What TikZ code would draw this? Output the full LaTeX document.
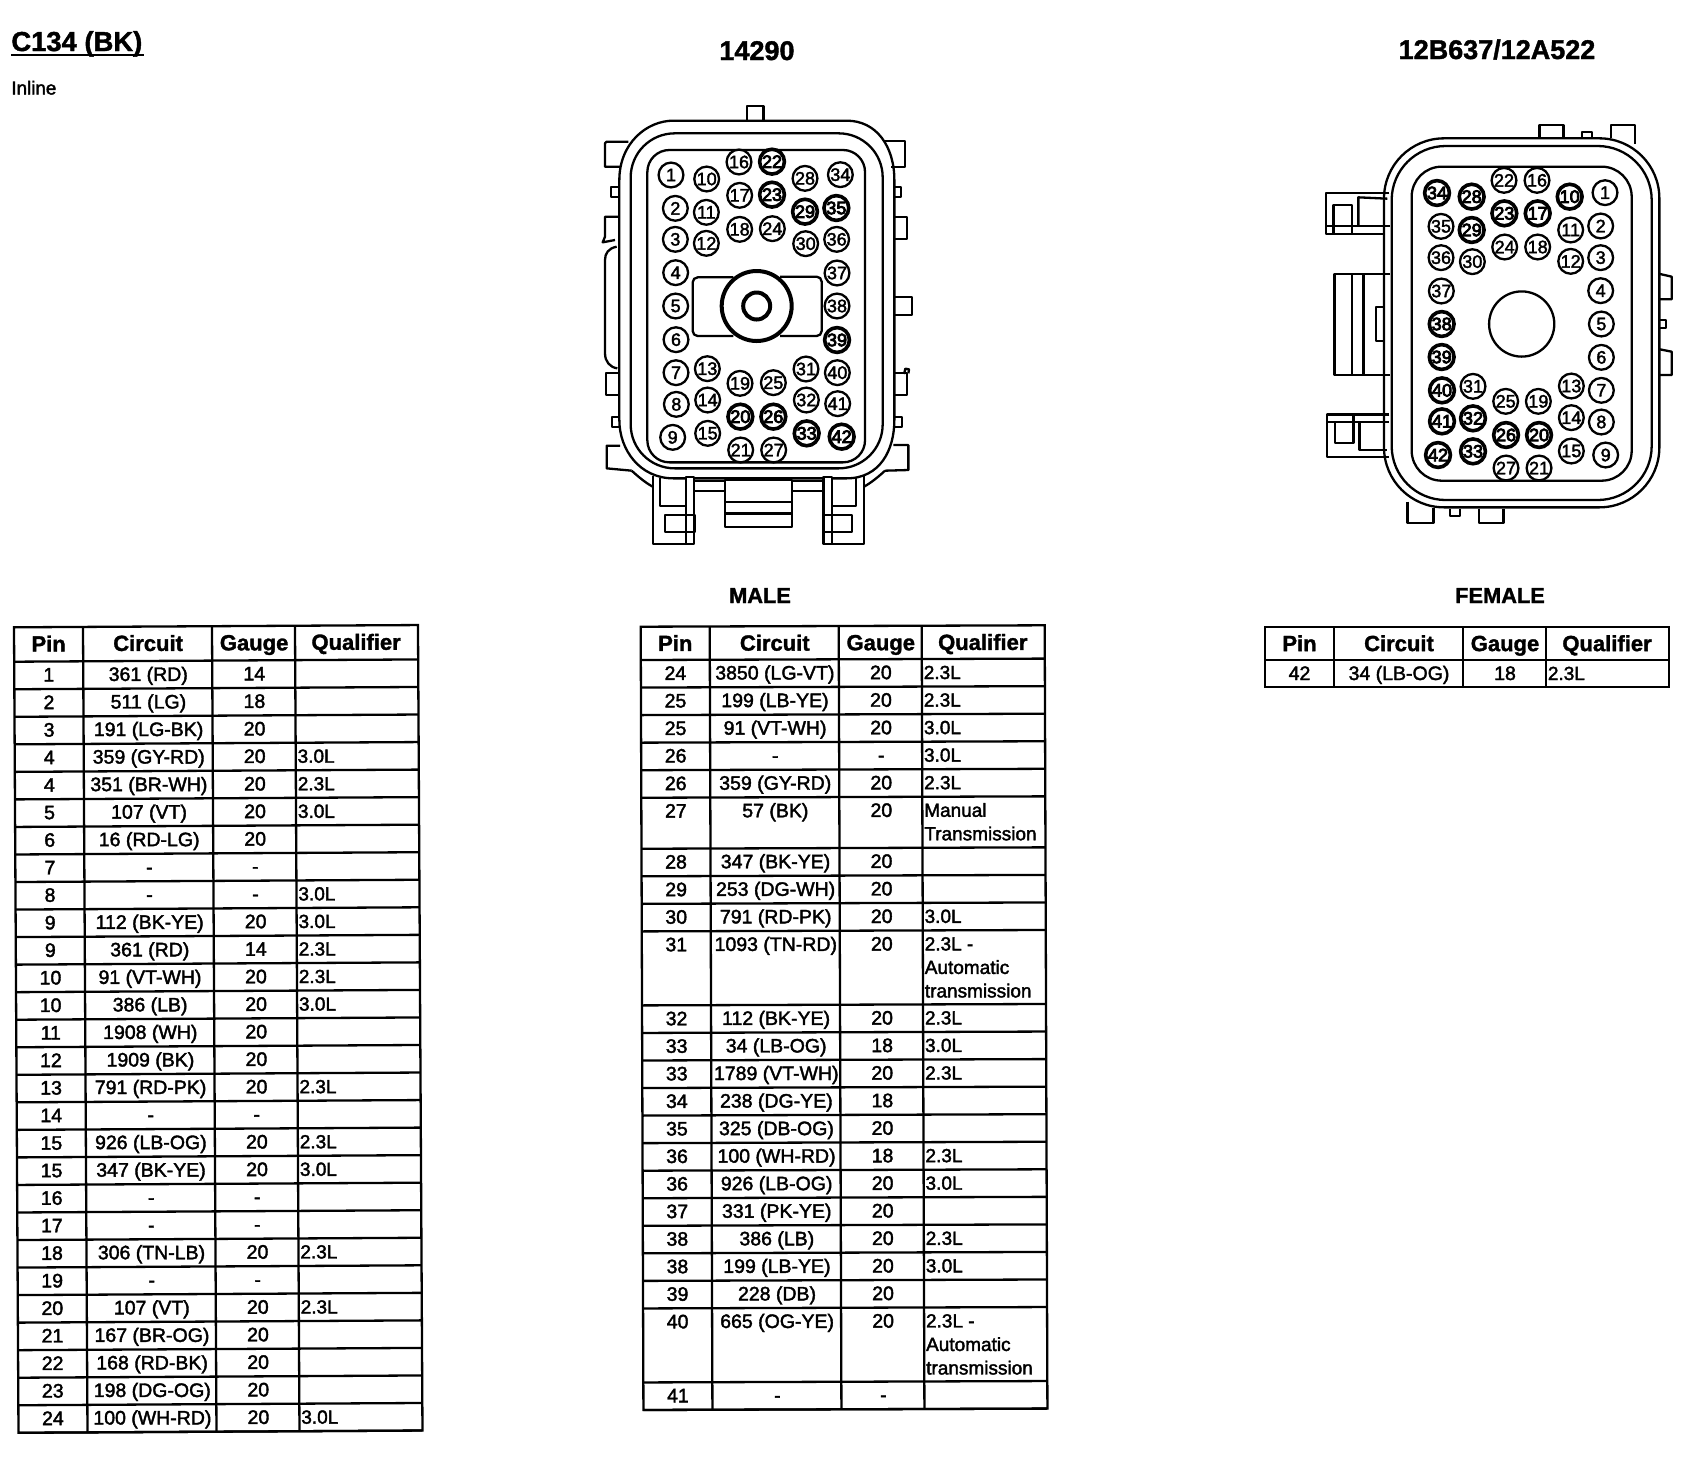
\documentclass[tikz,border=0pt]{standalone}
\usepackage{fontspec}
\setmainfont{Liberation Sans}
\newfontfamily\regf{Liberation Sans}[FakeBold=2]
\newfontfamily\darkf{Liberation Sans}[FakeBold=4.5]
\newfontfamily\hdf{Liberation Sans Bold}[FakeBold=1.5]
\newcounter{cellno}
\newcommand\curyval{0}
\newcommand\prevyval{0}
\newcommand\tcell[4]{\stepcounter{cellno}\node[#1,name=cell\thecellno] at (#2,#3) {#4};}
\newcommand\tabstart[1]{%
  \tcell{headtxt}{34.5}{24.4}{Pin}\tcell{headtxt}{134}{24.4}{Circuit}%
  \tcell{headtxt}{240}{24.4}{Gauge}\tcell{headtxt}{342}{24.4}{Qualifier}%
  \gdef\curyval{#1}\draw[tline] (0,#1) -- (404,#1);}
\newcommand\trow[5]{%
  \tcell{celltxt}{34.5}{\curyval+20}{#2}%
  \tcell{celltxt}{134}{\curyval+20}{#3}%
  \tcell{celltxt}{240}{\curyval+20}{#4}%
  \tcell{qualtxt}{282.5}{\curyval+20}{#5}%
  \xdef\prevyval{\curyval}%
  \pgfmathsetmacro\tmpy{\curyval+#1}\xdef\curyval{\tmpy}%
  \draw[tline] (0,\curyval) -- (404,\curyval);}
\newcommand\qmore[2]{\tcell{qualtxt}{282.5}{\prevyval+20+23.5*#1}{#2}}
\newcommand\tabend{%
  \draw[tline] (0,0) rectangle (404,\curyval);
  \foreach \cx in {69,198,281}{\draw[tline] (\cx,0) -- (\cx,\curyval);}}
\tikzset{
  headtxt/.style={anchor=base,inner sep=0pt,font=\hdf\fontsize{11}{13}\selectfont},
  celltxt/.style={anchor=base,inner sep=0pt,font=\regf\fontsize{9.75}{12}\selectfont},
  qualtxt/.style={anchor=base west,inner sep=0pt,font=\regf\fontsize{9.5}{12}\selectfont},
  tline/.style={line width=1.15pt,draw=black},
  bodyline/.style={line width=1.15pt,draw=black,line join=round},
  pinring/.style={circle,draw=black,fill=white,line width=1.15pt,minimum size=12.4pt,inner sep=0pt,font=\regf\fontsize{9}{9}\selectfont},
  pindark/.style={pinring,line width=1.8pt,font=\darkf\fontsize{9}{9}\selectfont},
  zoomunits/.style={x=0.166667pt,y=-0.166667pt}
}
\begin{document}
\begin{tikzpicture}[x=0.5pt,y=-0.5pt]
\fill[white] (0,0) rectangle (1700,1456);
\path[use as bounding box] (0,0) rectangle (1700,1456);

% titles
\node[anchor=base west,inner sep=0pt,font=\hdf\fontsize{13.7}{16}\selectfont] (title) at (11,51) {C134 (BK)};
\draw[line width=0.9pt] (11,55) -- (144,55);
\node[anchor=base west,inner sep=0pt,font=\regf\fontsize{9.4}{12}\selectfont] (inline) at (11,94.5) {Inline};
\node[anchor=base,inner sep=0pt,font=\hdf\fontsize{13.5}{16}\selectfont] (partm) at (757,60) {14290};
\node[anchor=base,inner sep=0pt,font=\hdf\fontsize{13.5}{16}\selectfont] (partf) at (1497,59) {12B637/12A522};
\node[anchor=base,inner sep=0pt,font=\hdf\fontsize{10.9}{13}\selectfont] (male) at (760,603) {MALE};
\node[anchor=base,inner sep=0pt,font=\hdf\fontsize{10.9}{13}\selectfont] (female) at (1500,603) {FEMALE};

% ---------- male connector ----------
\begin{scope}[xshift=280pt,yshift=-40pt,zoomunits]
 % housing
 \draw[bodyline] (178,700) -- (178,300) .. controls (178,190) and (260,122) .. (340,122) -- (860,122) .. controls (950,122) and (1003,200) .. (1003,300) -- (1003,1020) .. controls (1003,1110) and (960,1195) .. (860,1195) -- (340,1195) .. controls (240,1195) and (178,1110) .. (178,1020) -- cycle;
 \draw[bodyline,rounded corners=22pt] (212,160) rectangle (968,1165);
 \draw[bodyline,rounded corners=11pt] (262,210) rectangle (915,1147);
 % tabs and ears
 \draw[bodyline] (560,120) -- (560,77) -- (610,77) -- (610,120);
 \draw[bodyline] (205,185) -- (140,185) -- (135,190) -- (135,260) -- (180,260);
 \draw[bodyline] (970,182) -- (1035,182) -- (1035,262) -- (992,262);
 \draw[bodyline] (176,320) -- (154,320) -- (154,350) -- (176,350);
 \draw[bodyline] (1003,320) -- (1022,320) -- (1022,350) -- (1003,350);
 \draw[bodyline] (176,1010) -- (156,1010) -- (156,1040) -- (176,1040);
 \draw[bodyline] (1003,1010) -- (1025,1010) -- (1025,1040) -- (1003,1040);
 \draw[bodyline] (176,410) -- (135,410) -- (135,470) -- (128,487) -- (165,480);
 \draw[bodyline] (170,500) .. controls (145,505) and (135,520) .. (135,540) -- (135,820) .. controls (135,845) and (150,862) .. (172,865);
 \draw[bodyline] (176,880) -- (138,880) -- (138,945) -- (176,945);
 \draw[bodyline] (180,1097) -- (140,1097) -- (140,1165) -- (215,1172);
 \draw[bodyline] (1003,410) -- (1040,410) -- (1040,478) -- (1003,478);
 \draw[bodyline] (1003,652) -- (1055,652) -- (1055,705) -- (1003,705);
 \draw[bodyline] (1003,880) -- (1040,880) -- (1040,945) -- (1003,945);
 \draw[bodyline] (1032,882) -- (1036,866) -- (1047,868) -- (1045,880);
 \draw[bodyline] (1000,1095) -- (1045,1095) -- (1045,1170) -- (975,1172);
 % legs
 \draw[fill=white,bodyline] (278,1188) -- (278,1392) -- (403,1392) -- (403,1190) -- (378,1190) -- (378,1392);
 \draw[bodyline] (300,1195) -- (300,1278) -- (378,1278);
 \draw[bodyline] (316,1305) rectangle (404,1355);
 \draw[bodyline] (215,1172) .. controls (240,1195) and (260,1210) .. (278,1220);
 \draw[fill=white,bodyline] (912,1188) -- (912,1392) -- (790,1392) -- (790,1190) -- (815,1190) -- (815,1392);
 \draw[bodyline] (888,1195) -- (888,1278) -- (815,1278);
 \draw[bodyline] (790,1305) rectangle (875,1355);
 \draw[bodyline] (975,1172) .. controls (950,1195) and (930,1210) .. (912,1220);
 \draw[bodyline] (403,1203) -- (495,1203) (403,1232) -- (495,1232) (695,1203) -- (790,1203) (695,1232) -- (790,1232);
 \draw[fill=white,bodyline] (495,1200) rectangle (695,1340);
 \draw[bodyline] (495,1265) -- (695,1265);
 \draw[line width=1.6pt] (495,1300) -- (695,1300);
 % centre
 \draw[bodyline,rounded corners=2.5pt] (520,592) -- (398,592) -- (398,768) -- (520,768);
 \draw[bodyline,rounded corners=2.5pt] (660,590) -- (785,590) -- (785,768) -- (660,768);
 \node[circle,draw=black,fill=white,line width=2pt,minimum size=35pt,inner sep=0pt] (mhub) at (590,678) {};
 \node[circle,draw=black,fill=white,line width=2pt,minimum size=13.5pt,inner sep=0pt] (mhole) at (590,678) {};
 % pins
 \foreach \n/\x/\y in {1/333/285,2/346/385,3/346/478,4/347/578,5/347/678,6/348/779,7/348/878,8/349/973,9/338/1072,10/440/297,11/439/397,12/439/490,13/442/866,14/443/960,15/443/1060,16/537/246,17/539/346,18/539/448,19/540/910,21/542/1110,24/637/446,25/640/908,27/641/1110,28/735/295,30/737/491,31/738/867,32/739/960,34/841/284,36/830/478,37/831/579,38/831/678,40/832/878,41/833/971}
   \node[pinring] (m\n) at (\x,\y) {\n};
 \foreach \n/\x/\y in {20/541/1010,22/636/245,23/636/344,26/640/1010,29/735/395,33/740/1060,35/829/384,39/831/780,42/845/1070}
   \node[pindark] (m\n) at (\x,\y) {\n};
\end{scope}

% ---------- female connector ----------
\begin{scope}[xshift=650pt,yshift=-50pt,zoomunits]
 \draw[bodyline,rounded corners=30pt] (252,115) rectangle (1078,1222);
 \draw[bodyline,rounded corners=27pt] (275,138) rectangle (1055,1200);
 \draw[bodyline,rounded corners=15pt] (335,200) rectangle (995,1142);
 \node[circle,draw=black,fill=white,line width=1.15pt,minimum size=32.6pt,inner sep=0pt] (fhole) at (665,672) {};
 % tabs
 \draw[bodyline] (718,112) -- (718,75) -- (790,75) -- (790,114);
 \draw[bodyline] (845,112) -- (845,97) -- (875,97) -- (875,112);
 \draw[bodyline] (932,114) -- (932,75) -- (1005,75) -- (1005,132);
 \draw[bodyline] (322,1205) -- (322,1268) -- (400,1268) -- (400,1225);
 \draw[bodyline] (450,1226) -- (450,1248) -- (480,1248) -- (480,1226);
 \draw[bodyline] (537,1226) -- (537,1268) -- (610,1268) -- (610,1226);
 \draw[bodyline] (1080,522) -- (1115,530) -- (1115,598) -- (1080,598);
 \draw[bodyline] (1080,660) -- (1098,660) -- (1098,685) -- (1080,685);
 \draw[bodyline] (1080,748) -- (1115,755) -- (1115,825) -- (1080,825);
 % upper clip
 \draw[bodyline] (268,278) -- (78,278) -- (78,403) -- (250,403) (78,378) -- (270,378);
 \draw[bodyline] (100,400) -- (100,315) -- (155,315) -- (155,400);
 \draw[bodyline] (175,375) -- (175,292) -- (262,296);
 % lower clip
 \draw[bodyline] (268,943) -- (80,943) -- (80,1070) -- (268,1070) (80,965) -- (268,965);
 \draw[bodyline] (105,965) -- (105,1028) -- (160,1028) -- (160,945);
 \draw[bodyline] (178,965) -- (178,1050) -- (262,1050);
 % middle block
 \draw[bodyline] (270,522) -- (103,522) -- (103,825) -- (270,825);
 \draw[bodyline] (155,522) -- (155,825) (190,522) -- (190,825);
 \draw[bodyline] (250,620) -- (228,620) -- (228,722) -- (250,722);
 % pins
 \foreach \n/\x/\y in {1/915/278,2/902/378,3/902/473,4/902/572,5/904/672,6/904/772,7/904/871,8/904/966,9/917/1065,11/812/390,12/812/484,13/814/858,14/814/953,15/814/1053,16/711/241,18/713/441,19/715/904,21/717/1104,22/612/241,24/614/441,25/617/904,27/618/1104,30/517/485,31/519/859,35/423/379,36/423/473,37/424/573}
   \node[pinring] (f\n) at (\x,\y) {\n};
 \foreach \n/\x/\y in {10/809/290,17/713/340,20/717/1005,23/613/340,26/618/1005,28/515/290,29/515/390,32/519/955,33/519/1054,34/411/279,38/425/672,39/425/771,40/426/871,41/426/964,42/414/1065}
   \node[pindark] (f\n) at (\x,\y) {\n};
\end{scope}

% ---------- left table ----------
\begin{scope}[shift={(14,627.3)},rotate=0.32]
 \tabstart{34.4}
 \trow{27.54}{1}{361 (RD)}{14}{}
 \trow{27.54}{2}{511 (LG)}{18}{}
 \trow{27.54}{3}{191 (LG-BK)}{20}{}
 \trow{27.54}{4}{359 (GY-RD)}{20}{3.0L}
 \trow{27.54}{4}{351 (BR-WH)}{20}{2.3L}
 \trow{27.54}{5}{107 (VT)}{20}{3.0L}
 \trow{27.54}{6}{16 (RD-LG)}{20}{}
 \trow{27.54}{7}{-}{-}{}
 \trow{27.54}{8}{-}{-}{3.0L}
 \trow{27.54}{9}{112 (BK-YE)}{20}{3.0L}
 \trow{27.54}{9}{361 (RD)}{14}{2.3L}
 \trow{27.54}{10}{91 (VT-WH)}{20}{2.3L}
 \trow{27.54}{10}{386 (LB)}{20}{3.0L}
 \trow{27.54}{11}{1908 (WH)}{20}{}
 \trow{27.54}{12}{1909 (BK)}{20}{}
 \trow{27.54}{13}{791 (RD-PK)}{20}{2.3L}
 \trow{27.54}{14}{-}{-}{}
 \trow{27.54}{15}{926 (LB-OG)}{20}{2.3L}
 \trow{27.54}{15}{347 (BK-YE)}{20}{3.0L}
 \trow{27.54}{16}{-}{-}{}
 \trow{27.54}{17}{-}{-}{}
 \trow{27.54}{18}{306 (TN-LB)}{20}{2.3L}
 \trow{27.54}{19}{-}{-}{}
 \trow{27.54}{20}{107 (VT)}{20}{2.3L}
 \trow{27.54}{21}{167 (BR-OG)}{20}{}
 \trow{27.54}{22}{168 (RD-BK)}{20}{}
 \trow{27.54}{23}{198 (DG-OG)}{20}{}
 \trow{27.54}{24}{100 (WH-RD)}{20}{3.0L}
 \tabend
\end{scope}

% ---------- middle table ----------
\begin{scope}[shift={(640.7,626.7)},rotate=0.2]
 \tabstart{33.3}
 \trow{27.55}{24}{3850 (LG-VT)}{20}{2.3L}
 \trow{27.55}{25}{199 (LB-YE)}{20}{2.3L}
 \trow{27.55}{25}{91 (VT-WH)}{20}{3.0L}
 \trow{27.55}{26}{-}{-}{3.0L}
 \trow{27.55}{26}{359 (GY-RD)}{20}{2.3L}
 \trow{51}{27}{57 (BK)}{20}{Manual}\qmore{1}{Transmission}
 \trow{27.55}{28}{347 (BK-YE)}{20}{}
 \trow{27.55}{29}{253 (DG-WH)}{20}{}
 \trow{27.55}{30}{791 (RD-PK)}{20}{3.0L}
 \trow{74}{31}{1093 (TN-RD)}{20}{2.3L -}\qmore{1}{Automatic}\qmore{2}{transmission}
 \trow{27.55}{32}{112 (BK-YE)}{20}{2.3L}
 \trow{27.55}{33}{34 (LB-OG)}{18}{3.0L}
 \trow{27.55}{33}{1789 (VT-WH)}{20}{2.3L}
 \trow{27.55}{34}{238 (DG-YE)}{18}{}
 \trow{27.55}{35}{325 (DB-OG)}{20}{}
 \trow{27.55}{36}{100 (WH-RD)}{18}{2.3L}
 \trow{27.55}{36}{926 (LB-OG)}{20}{3.0L}
 \trow{27.55}{37}{331 (PK-YE)}{20}{}
 \trow{27.55}{38}{386 (LB)}{20}{2.3L}
 \trow{27.55}{38}{199 (LB-YE)}{20}{3.0L}
 \trow{27.55}{39}{228 (DB)}{20}{}
 \trow{74}{40}{665 (OG-YE)}{20}{2.3L -}\qmore{1}{Automatic}\qmore{2}{transmission}
 \trow{27.55}{41}{-}{-}{}
 \tabend
\end{scope}

% ---------- right table ----------
\begin{scope}[shift={(1265,626.7)}]
 \tabstart{33.3}
 \trow{26.7}{42}{34 (LB-OG)}{18}{2.3L}
 \tabend
\end{scope}
\end{tikzpicture}
\end{document}
